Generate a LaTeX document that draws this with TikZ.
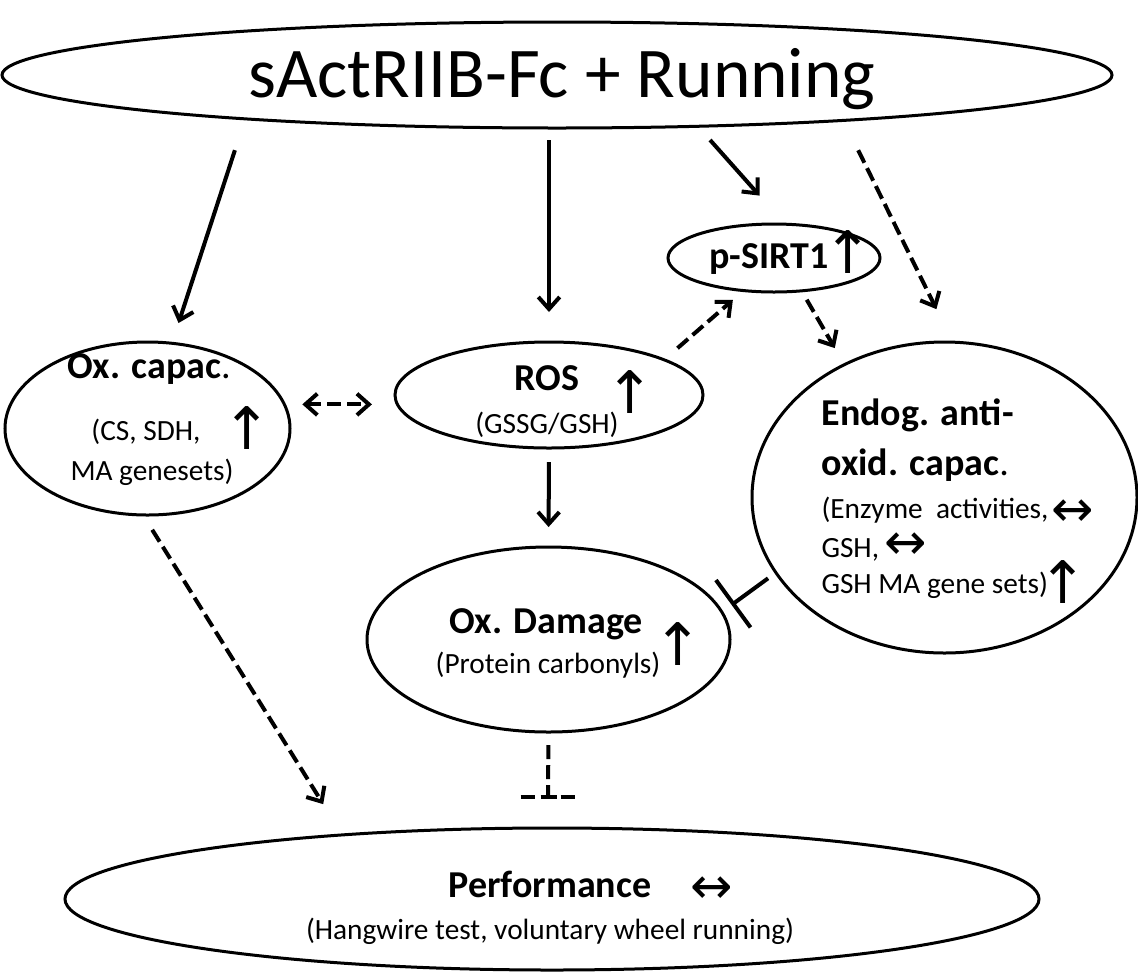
\documentclass[tikz,border=0pt]{standalone}
\usepackage{fontspec}
\setmainfont{Carlito}
\newfontfamily\symfnt{DejaVu Sans}
\usetikzlibrary{shapes.geometric,arrows.meta}

\tikzset{every picture/.style={line width=0.75pt}}
\tikzset{
  blob/.style={draw, ellipse, line width=2.25pt, inner sep=0pt, outer sep=0pt},
  lbl/.style={anchor=base, inner sep=0.75pt, font=\fontsize{28.5}{30}\selectfont\bfseries},
  sub/.style={anchor=base, inner sep=0.75pt, font=\fontsize{22}{24}\selectfont},
  symup/.style={inner sep=0pt, font=\fontsize{44}{44}\symfnt},
  symlr/.style={inner sep=0pt, font=\fontsize{38}{38}\symfnt},
  arr/.style={line width=3pt, -{Straight Barb[length=9pt,width=16pt]}},
  dsh/.style={arr, dash pattern=on 10.5pt off 4.5pt},
}
\newcommand{\upsym}{\makebox[4pt]{↑}}
\newcommand{\lrsym}{\makebox[20pt]{↔}}

\begin{document}
\begin{tikzpicture}[x=0.75pt,y=0.75pt,yscale=-1]
		\useasboundingbox (0,0) rectangle (1138,972);
		
		%Shape: Ellipse [top]
		\node[blob, minimum width=832.5pt, minimum height=79.5pt] (top) at (557,75) {};
		%Shape: Ellipse [p-SIRT1]
		\node[blob, minimum width=159pt, minimum height=51pt] (sirt) at (774,258) {};
		%Shape: Ellipse [ROS]
		\node[blob, minimum width=231pt, minimum height=79.5pt] (ros) at (549,395) {};
		%Shape: Ellipse [Ox. capac.]
		\node[blob, minimum width=213.75pt, minimum height=129.75pt] (oxcap) at (147.5,428.5) {};
		%Shape: Ellipse [Endog.]
		\node[blob, minimum width=288.75pt, minimum height=233.25pt] (endog) at (944.5,497.5) {};
		%Shape: Ellipse [Ox. Damage]
		\node[blob, minimum width=272.25pt, minimum height=138.75pt] (oxdam) at (548.5,639.5) {};
		%Shape: Ellipse [Performance]
		\node[blob, minimum width=730.5pt, minimum height=106.5pt] (perf) at (552,899) {};
		
		% Text Node
		\node[anchor=base, inner sep=0.75pt, font=\fontsize{53.5}{56}\selectfont] (ttl) at (562,97) {sActRIIB-Fc + Running};
		% Text Node
		\node[lbl] (sirtlbl) at (769,268) {p-SIRT1};
		\node[symup] (sirtup) at (848,252) {\upsym};
		% Text Node
		\node[lbl] (roslbl) at (547,390) {ROS};
		\node[sub] (rossub) at (547,433) {(GSSG/GSH)};
		\node[symup] (rosup) at (630,392) {\upsym};
		% Text Node
		\node[lbl] (caplbl) at (149,378) {Ox. capac{\mdseries.}};
		\node[sub] (capsub) at (146,440) {(CS, SDH,};
		\node[sub] (capsubb) at (152,480) {MA genesets)};
		\node[symup] (capup) at (247,428) {\upsym};
		% Text Node
		\node[lbl, anchor=base west] (endlbl) at (820,425) {Endog. anti-};
		\node[lbl, anchor=base west] (endlblb) at (820,475) {oxid. capac{\mdseries.}};
		\node[sub, anchor=base west] (endsub) at (820,518) {(Enzyme\ \ activities,};
		\node[sub, anchor=base west] (endsubb) at (820,557) {GSH,};
		\node[sub, anchor=base west] (endsubc) at (820,593) {GSH MA gene sets)};
		\node[symlr] (endlr) at (1073,513) {\lrsym};
		\node[symlr] (endlrb) at (906,546) {\lrsym};
		\node[symup] (endup) at (1063,582) {\upsym};
		% Text Node
		\node[lbl] (dmglbl) at (546,633) {Ox. Damage};
		\node[sub] (dmgsub) at (548,673) {(Protein carbonyls)};
		\node[symup] (dmgup) at (678,644) {\upsym};
		% Text Node
		\node[lbl] (perflbl) at (550,897) {Performance};
		\node[sub] (perfsub) at (550,939) {(Hangwire test, voluntary wheel running)};
		\node[symlr] (perflr) at (712,890) {\lrsym};
		
		%Arrows from the top ellipse
		\draw[arr, shorten <=24.7pt, shorten >=16pt] (top.188) -- (oxcap.74.6);
		\draw[arr, shorten <=9pt, shorten >=22.5pt] (top.south -| ros.north) -- (ros.north);
		\draw[arr, shorten <=13.8pt, shorten >=28.7pt] (top.340.4) -- (sirt.72);
		\draw[dsh, shorten <=24.9pt, shorten >=27.6pt] (top.351.6) -- (endog.87.6);
		%Dashed arrows round p-SIRT1
		\draw[dsh, shorten <=13.3pt, shorten >=10.7pt] (ros.17.2) -- (sirt.227.7);
		\draw[dsh, shorten <=7.7pt, shorten >=14.4pt] (sirt.310.3) -- (endog.127.7);
		%ROS to Ox. capac. and Ox. Damage
		\draw[dsh, {Straight Barb[length=9pt,width=16pt]}-{Straight Barb[length=9pt,width=16pt]}, shorten <=13.5pt, shorten >=17.3pt] (oxcap.10.8) -- (oxcap.10.8 -| ros.west);
		\draw[arr, shorten <=10.5pt, shorten >=15pt] (ros.south) -- (oxdam.north);
		%Inhibition from Endog.
		\draw[line width=3pt, -{Bar[width=44pt]}, shorten <=7.3pt, shorten >=9.1pt] (endog.204.2) -- (oxdam.9.2);
		%To Performance
		\draw[dsh, shorten <=13.1pt, shorten >=27.2pt] (oxcap.267) -- (perf.163);
		\coordinate (blk) at (548,797);
		\draw[line width=3pt, dash pattern=on 10.5pt off 4.5pt, shorten <=9.75pt] (oxdam.south) -- (blk);
		\draw[line width=3pt, dash pattern=on 11pt off 4pt on 12pt off 3pt on 11pt] ([xshift=-20.6pt]blk) -- ([xshift=20.6pt]blk);
	\end{tikzpicture}
\end{document}
